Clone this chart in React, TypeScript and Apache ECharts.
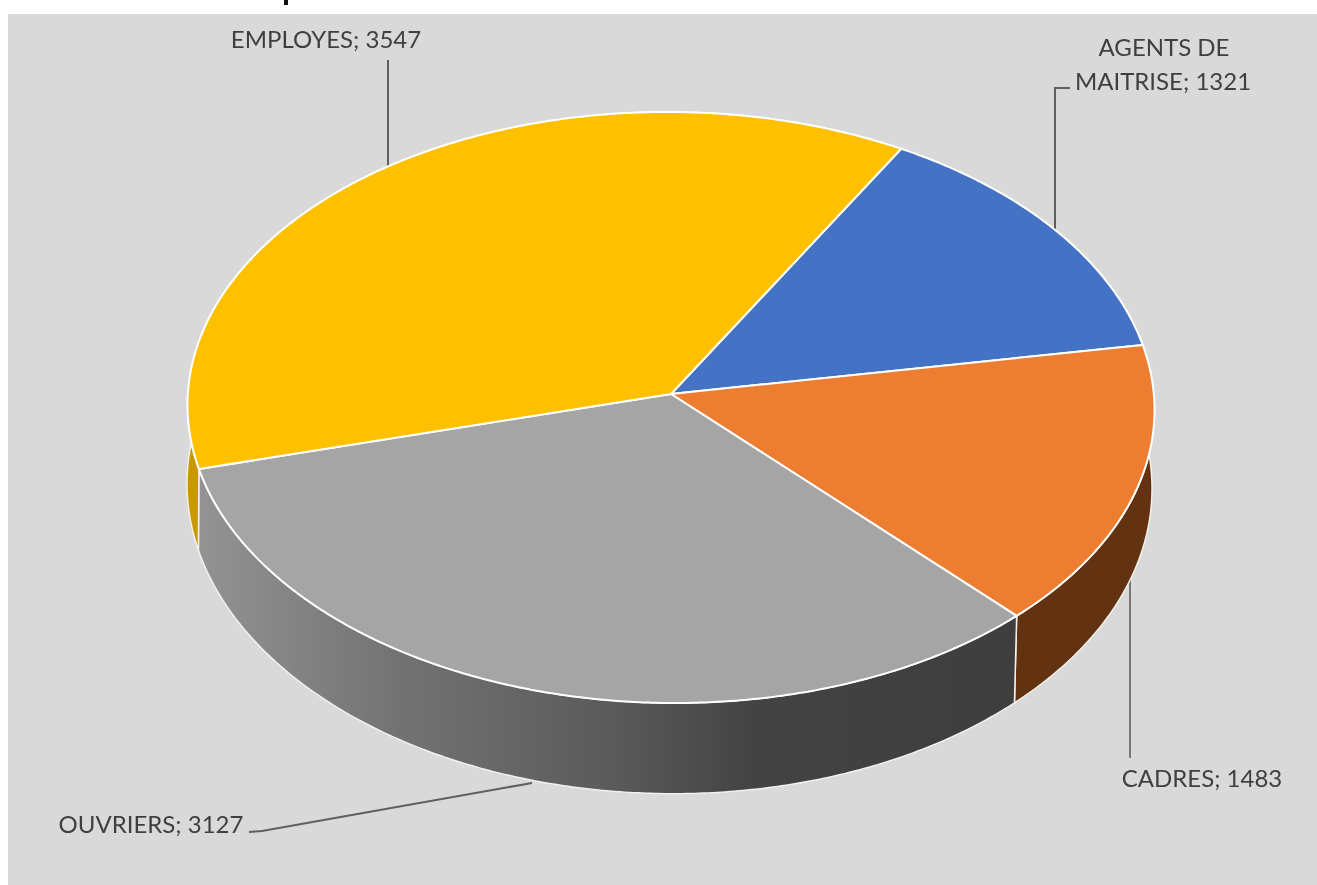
import React, { useEffect, useRef } from "react";
import * as echarts from "echarts";

const categories = ["AGENTS DE MAITRISE", "CADRES", "OUVRIERS", "EMPLOYES"];
const values = [1321, 1483, 3127, 3547];
const topColors = ["#4472c4", "#ed7d31", "#a5a5a5", "#ffc000"];
const sideColors = ["#2a4478", "#633210", "#5a5a5a", "#c99700"];
const labelLines = [["AGENTS DE", "MAITRISE; 1321"], ["CADRES; 1483"], ["OUVRIERS; 3127"], ["EMPLOYES; 3547"]];

const startDeg = -60.3;
const apexX = 671;
const topY = 394;
const k = 0.04566;
const skew = 0.005;
const topA = 483;
const topB = 294.9;
const botX = 669.5;
const botY = 472;
const botA = 482;
const botB = 307;

const total = values.reduce((a, b) => a + b, 0);
const angleAt = (i: number) => startDeg + (values.slice(0, i).reduce((a, b) => a + b, 0) / total) * 360;

const project = (deg: number, r: number, cx: number, cy: number, a: number, b: number): number[] => {
  const t = (deg * Math.PI) / 180;
  const X = r * Math.cos(t);
  const Y = r * Math.sin(t);
  const d = 1 - k * Y;
  const px = cx + (a * X) / d;
  return [px, cy + (b * Y) / d + skew * (px - cx)];
};

const arc = (from: number, to: number, cx: number, cy: number, a: number, b: number): number[][] => {
  const n = Math.ceil(Math.abs(to - from) * 2);
  const pts: number[][] = [];
  for (let j = 0; j <= n; j++) pts.push(project(from + ((to - from) * j) / n, 1, cx, cy, a, b));
  return pts;
};

const greyWall = new echarts.graphic.LinearGradient(0, 0, 1, 0, [
  { offset: 0, color: "#939393" },
  { offset: 0.25, color: "#727272" },
  { offset: 0.5, color: "#5b5b5b" },
  { offset: 0.68, color: "#434343" },
  { offset: 1, color: "#3e3e3e" },
]);

const seriesData = categories.map((name, i) => ({ name, value: values[i] }));

const labelFont = { fontFamily: "Lato", fontSize: 24, fill: "#3f3f3f" };

export default function App() {
  const ref = useRef<HTMLDivElement>(null);
  useEffect(() => {
    document.body.style.margin = "0";
    const chart = echarts.init(ref.current!, null, { renderer: "svg" });
    const leader = "#5f5f5f";
    chart.setOption({
      animation: false,
      backgroundColor: "#ffffff",
      graphic: [
        { type: "rect", z: 0, shape: { x: 8, y: 14, width: 1309, height: 871 }, style: { fill: "#d9d9d9" } },
        { type: "rect", z: 0, shape: { x: 284, y: 0, width: 4, height: 5 }, style: { fill: "#111111" } },
        { type: "polyline", z: 1, shape: { points: [[1070, 88], [1055, 88], [1055, 232]] }, style: { stroke: leader, lineWidth: 2, fill: "none" } },
        { type: "line", z: 1, shape: { x1: 1130, y1: 578, x2: 1130, y2: 758 }, style: { stroke: "#777777", lineWidth: 2 } },
        { type: "polyline", z: 1, shape: { points: [[249, 832], [262, 831], [532, 783]] }, style: { stroke: leader, lineWidth: 2, fill: "none" } },
        { type: "line", z: 1, shape: { x1: 388, y1: 60, x2: 388, y2: 172 }, style: { stroke: leader, lineWidth: 2 } },
        { type: "text", z: 5, style: { x: 1164, y: 46, text: labelLines[0][0], align: "center", verticalAlign: "middle", ...labelFont } },
        { type: "text", z: 5, style: { x: 1163, y: 80, text: labelLines[0][1], align: "center", verticalAlign: "middle", ...labelFont } },
        { type: "text", z: 5, style: { x: 1202, y: 777, text: labelLines[1][0], align: "center", verticalAlign: "middle", ...labelFont } },
        { type: "text", z: 5, style: { x: 151, y: 823, text: labelLines[2][0], align: "center", verticalAlign: "middle", ...labelFont } },
        { type: "text", z: 5, style: { x: 326, y: 38, text: labelLines[3][0], align: "center", verticalAlign: "middle", ...labelFont } },
      ],
      series: [
        {
          type: "custom",
          coordinateSystem: "none",
          z: 2,
          data: seriesData,
          renderItem: (params: any) => {
            const i = params.dataIndex;
            const from = angleAt(i);
            const to = angleAt(i + 1);
            const points = [...arc(from, to, apexX, topY, topA, topB), ...arc(to, from, botX, botY, botA, botB)];
            return {
              type: "polygon",
              shape: { points },
              style: { fill: i === 2 ? greyWall : sideColors[i], stroke: "#f4f0ea", lineWidth: 1.5, lineJoin: "round" },
            };
          },
        },
        {
          type: "custom",
          coordinateSystem: "none",
          z: 3,
          data: seriesData,
          renderItem: (params: any) => {
            const i = params.dataIndex;
            const points = [project(0, 0, apexX, topY, topA, topB), ...arc(angleAt(i), angleAt(i + 1), apexX, topY, topA, topB)];
            return {
              type: "polygon",
              shape: { points },
              style: { fill: topColors[i], stroke: "#ffffff", lineWidth: 2, lineJoin: "round", opacity: 1 },
            };
          },
        },
      ],
    });
    return () => chart.dispose();
  }, []);
  return (
    <div
      ref={ref}
      style={{ position: "absolute", left: 0, top: 0, width: 1317, height: 885, overflow: "hidden", filter: "blur(0.5px)" }}
    />
  );
}
